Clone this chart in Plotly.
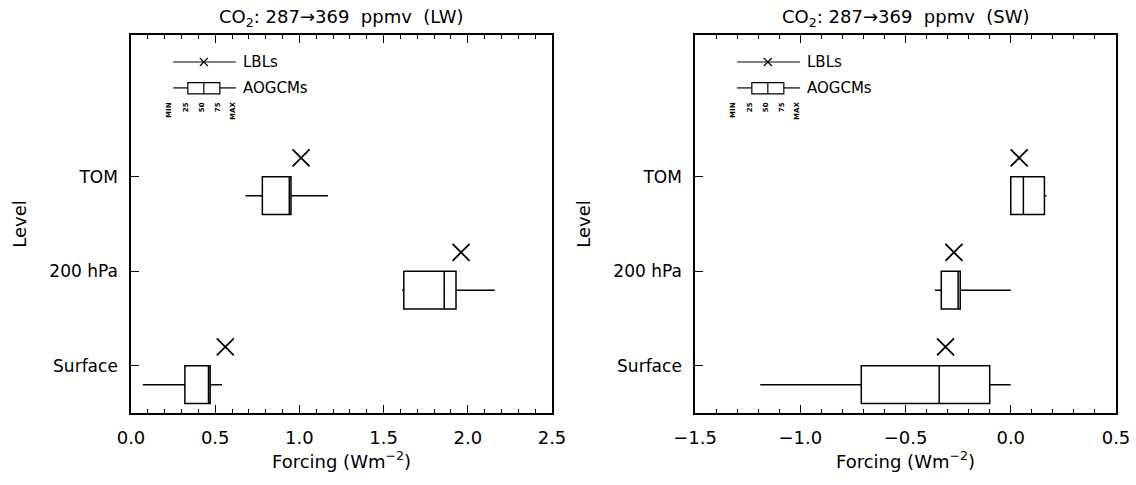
import plotly.graph_objects as go

# levels on the y axis
levels = ["Surface", "200 hPa", "TOM"]
level_pos = [1, 2, 3]

# LW forcing: AOGCM box stats and LBL values
lw_min = [0.07, 1.61, 0.68]
lw_q1 = [0.32, 1.62, 0.78]
lw_med = [0.46, 1.86, 0.94]
lw_q3 = [0.47, 1.93, 0.95]
lw_max = [0.54, 2.16, 1.17]
lw_lbl = [0.56, 1.96, 1.01]

# SW forcing
sw_min = [-1.19, -0.36, 0.0]
sw_q1 = [-0.71, -0.33, 0.0]
sw_med = [-0.34, -0.25, 0.06]
sw_q3 = [-0.10, -0.24, 0.16]
sw_max = [0.0, 0.0, 0.17]
sw_lbl = [-0.31, -0.27, 0.04]

FONT = "DejaVu Sans"
W, H = 1136, 485

fig = go.Figure()


def add_panel(xa, ya, vmin, q1, med, q3, vmax, lbl):
    box_y = [p - 0.2 for p in level_pos]
    lbl_y = [p + 0.2 for p in level_pos]
    fig.add_trace(go.Box(
        y=box_y, q1=q1, median=med, q3=q3, lowerfence=vmin, upperfence=vmax,
        orientation="h", width=0.4, whiskerwidth=0,
        fillcolor="white", line=dict(color="black", width=1.5),
        xaxis=xa, yaxis=ya, showlegend=False, hoverinfo="skip"))
    fig.add_trace(go.Scatter(
        x=lbl, y=lbl_y, mode="markers",
        marker=dict(symbol="x-thin", size=17, line=dict(color="black", width=1.8)),
        xaxis=xa, yaxis=ya, showlegend=False, hoverinfo="skip"))


add_panel("x", "y", lw_min, lw_q1, lw_med, lw_q3, lw_max, lw_lbl)
add_panel("x2", "y2", sw_min, sw_q1, sw_med, sw_q3, sw_max, sw_lbl)

dom_y = [1 - 413 / H, 1 - 35 / H]
xcommon = dict(
    showgrid=False, zeroline=False, showline=True, linecolor="black", linewidth=1.5,
    mirror="allticks", ticks="inside", ticklen=8, tickwidth=1.3, tickcolor="black",
    dtick=0.5, tickformat=".1f", automargin=False, ticklabelstandoff=8,
    minor=dict(ticks="inside", dtick=0.1, ticklen=4, tickcolor="black", tickwidth=1.1),
    tickfont=dict(family=FONT, size=18, color="black"),
    title=dict(text="Forcing (Wm<sup>−2</sup>)", font=dict(family=FONT, size=18, color="black"),
               standoff=4),
)
ycommon = dict(
    showgrid=False, zeroline=False, showline=True, linecolor="black", linewidth=1.5,
    mirror=True, ticks="inside", ticklen=8, tickwidth=1.3, tickcolor="black",
    range=[0.5, 4.5], tickvals=level_pos, ticktext=levels, automargin=False,
    ticklabelstandoff=8,
    tickfont=dict(family=FONT, size=17, color="black"),
    title=dict(text="Level", font=dict(family=FONT, size=18, color="black"), standoff=18),
)

fig.update_layout(
    width=W, height=H,
    margin=dict(l=0, r=0, t=0, b=0),
    paper_bgcolor="white", plot_bgcolor="white",
    xaxis=dict(xcommon, domain=[131 / W, 552 / W], range=[0, 2.5], anchor="y"),
    yaxis=dict(ycommon, domain=dom_y, anchor="x"),
    xaxis2=dict(xcommon, domain=[695 / W, 1116 / W], range=[-1.5, 0.5], anchor="y2"),
    yaxis2=dict(ycommon, domain=dom_y, anchor="x2"),
)

shapes = []
annotations = []
for xr, yr, tag in [("x domain", "y domain", "LW"), ("x2 domain", "y2 domain", "SW")]:
    ln = dict(color="black", width=1.2)
    # title
    annotations.append(dict(
        xref=xr, yref=yr, x=0.5, y=1, yanchor="bottom", yshift=3, showarrow=False,
        text=f"CO<sub>2</sub>: 287→369  ppmv  ({tag})",
        font=dict(family=FONT, size=18, color="black")))
    # legend: LBLs
    shapes.append(dict(type="line", xref=xr, yref=yr, x0=0.10, x1=0.249, y0=0.9286, y1=0.9286, line=ln))
    for sgn in (1, -1):
        shapes.append(dict(type="line", xref=xr, yref=yr, xsizemode="pixel", ysizemode="pixel",
                           xanchor=0.173, yanchor=0.9286, x0=-4, x1=4, y0=-4 * sgn, y1=4 * sgn, line=ln))
    annotations.append(dict(xref=xr, yref=yr, x=0.262, y=0.9286, xanchor="left", yanchor="middle",
                            showarrow=False, text="LBLs", font=dict(family=FONT, size=15, color="black")))
    # legend: AOGCMs
    shapes.append(dict(type="line", xref=xr, yref=yr, x0=0.10, x1=0.135, y0=0.86, y1=0.86, line=ln))
    shapes.append(dict(type="line", xref=xr, yref=yr, x0=0.211, x1=0.249, y0=0.86, y1=0.86, line=ln))
    shapes.append(dict(type="rect", xref=xr, yref=yr, x0=0.135, x1=0.211, y0=0.844, y1=0.874, line=ln))
    shapes.append(dict(type="line", xref=xr, yref=yr, x0=0.173, x1=0.173, y0=0.844, y1=0.874, line=ln))
    annotations.append(dict(xref=xr, yref=yr, x=0.262, y=0.86, xanchor="left", yanchor="middle",
                            showarrow=False, text="AOGCMs", font=dict(family=FONT, size=15, color="black")))
    for lab, xp in zip(["MIN", "25", "50", "75", "MAX"], [0.09, 0.131, 0.169, 0.207, 0.242]):
        annotations.append(dict(xref=xr, yref=yr, x=xp, y=0.828, xanchor="center", yanchor="top",
                                textangle=-90, showarrow=False, text=f"<b>{lab}</b>",
                                font=dict(family=FONT, size=7, color="black")))

fig.update_layout(shapes=shapes, annotations=annotations)
# drop the default 8px body margin so the figure sits at the window origin
fig.write_html("out.html", config={"displayModeBar": False},
               post_script="document.body.style.margin='0px';")
